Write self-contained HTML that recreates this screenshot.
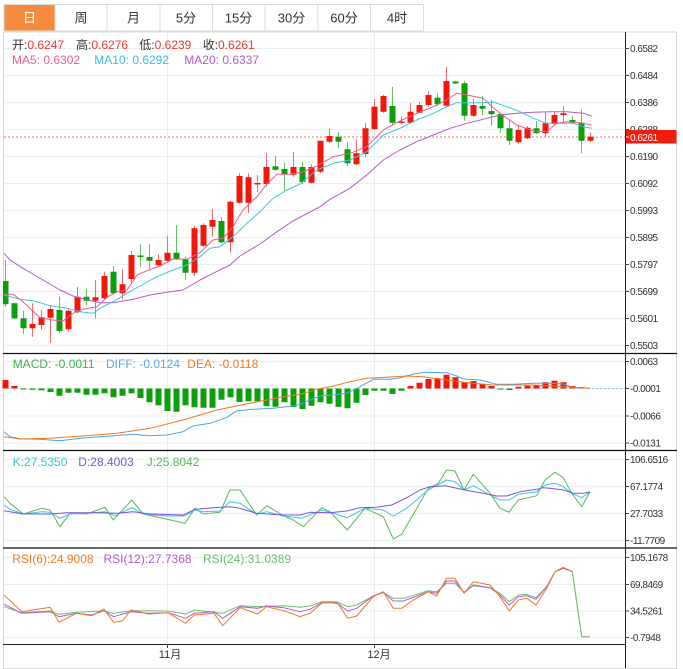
<!DOCTYPE html>
<html><head><meta charset="utf-8"><style>
html,body{margin:0;padding:0;background:#fff;}
svg{display:block;font-family:"Liberation Sans","Noto Sans CJK SC",sans-serif;}
.ax{font-size:10px;fill:#333;letter-spacing:-0.5px;}
.lg{font-size:12px;}
</style></head><body>
<svg width="683" height="669" viewBox="0 0 683 669" xmlns="http://www.w3.org/2000/svg">
<!-- tabs -->
<rect x="4" y="4.5" width="51" height="26.5" fill="#f58b3d"/>
<path d="M4 4.5H423.5M4 31H423.5M4 4.5V31M55 4.5V31M107 4.5V31M160 4.5V31M212.5 4.5V31M265 4.5V31M318 4.5V31M370.5 4.5V31M423.5 4.5V31" stroke="#dcdcdc" stroke-width="1" fill="none"/>
<g font-size="13" text-anchor="middle" fill="#333">
<text x="29.5" y="22.5" fill="#fff">日</text>
<text x="81" y="22.5">周</text>
<text x="133.5" y="22.5">月</text>
<text x="186" y="22.5">5分</text>
<text x="238.5" y="22.5">15分</text>
<text x="291.5" y="22.5">30分</text>
<text x="344" y="22.5">60分</text>
<text x="397" y="22.5">4时</text>
</g>
<!-- frame -->
<path d="M3.5 32V668M676.5 32V668M3 668.5H677M3 32H677" stroke="#d8d8d8" stroke-width="1" fill="none"/>
<!-- grids -->
<g stroke="#e9eef3" stroke-width="1" fill="none">
<path d="M4 48.5H625M4 75.5H625M4 102.5H625M4 129.5H625M4 156.5H625M4 183.5H625M4 210.5H625M4 237.5H625M4 264.5H625M4 291.5H625M4 318.5H625M4 345.5H625"/>
<path d="M4 361.5H625M4 388.5H625M4 416H625M4 443H625"/>
<path d="M4 459.5H625M4 486.5H625M4 513.5H625M4 540.5H625"/>
<path d="M4 557.5H625M4 584.5H625M4 611H625M4 637.5H625"/>
<path d="M167.5 32V644M374.5 32V644"/>
</g>
<!-- price current line -->
<path d="M4 137H625" stroke="#f46a6a" stroke-width="1" stroke-dasharray="2,2"/>
<!-- candles -->
<path stroke="#f36b6b" stroke-width="1" fill="none" d="M32.5 303.3V336.7M41.5 310V330M50.5 305V342.7M68.5 308V331.7M77.5 286.7V313.3M95.5 280V318.3M104.5 271.7V299.3M122.5 269.3V299.3M131.5 251V284.3M158.5 254.3V266.7M167.5 235.7V261.7M194.5 225.7V276M203.5 223.3V246.7M212.5 209V236.7M230.5 200.7V252.7M239.5 173.3V203.7M248.5 173.3V213.3M257.5 175V192.3M266.5 153.3V186.7M293.5 151.7V176.7M311.5 164.3V183.3M320.5 140.7V173.3M329.5 129V143.3M356.5 139.3V165M365.5 122.7V156.7M374.5 99V130M383.5 94.7V112.7M401.5 116.7V124.3M410.5 102.7V123.3M419.5 101.7V113.3M428.5 90.7V106.7M446.5 66.7V106.7M473.5 99.3V116.7M518.5 125V144M527.5 126V139.3M545.5 111.7V137.3M554.5 111.7V125M563.5 106V122.7M590.5 132.7V142.3"/>
<path stroke="#62c262" stroke-width="1" fill="none" d="M5.5 260V307M14.5 302.7V319M23.5 310.7V334M59.5 296.7V332.7M86.5 289.3V305M113.5 266V294.3M140.5 244V266.7M149.5 244V270M176.5 225V260.3M185.5 256.7V280M221.5 217.3V243.3M275.5 155.7V170.7M284.5 162.7V190.7M302.5 162V184M338.5 131.7V148.3M347.5 141.7V166M392.5 86.7V125M437.5 93.3V105.7M455.5 80.7V84M464.5 80.7V120.7M482.5 96V115M491.5 100V125.7M500.5 112.7V132.7M509.5 120V145M536.5 121V134M572.5 116V124M581.5 109.3V153.3"/>
<path fill="#f2170b" d="M29.5 324H35.5V328.3H29.5ZM38.5 317.3H44.5V325H38.5ZM47.5 309H53.5V317.7H47.5ZM65.5 310.7H71.5V329.3H65.5ZM74.5 296.7H80.5V312.3H74.5ZM92.5 297.3H98.5V300.7H92.5ZM101.5 276H107.5V298.3H101.5ZM119.5 284.3H125.5V293.3H119.5ZM128.5 255H134.5V279H128.5ZM155.5 260H161.5V265.3H155.5ZM164.5 252.7H170.5V260.7H164.5ZM191.5 228.3H197.5V272.7H191.5ZM200.5 225H206.5V245.7H200.5ZM209.5 220H215.5V226.7H209.5ZM227.5 201.7H233.5V242.3H227.5ZM236.5 176H242.5V202.7H236.5ZM245.5 177.3H251.5V202.7H245.5ZM254.5 183H260.5V184.5H254.5ZM263.5 167H269.5V184H263.5ZM290.5 167H296.5V174.7H290.5ZM308.5 167H314.5V182.7H308.5ZM317.5 140.7H323.5V171.7H317.5ZM326.5 136H332.5V141.7H326.5ZM353.5 153.3H359.5V164.3H353.5ZM362.5 128.3H368.5V154H362.5ZM371.5 106.7H377.5V129H371.5ZM380.5 96H386.5V111.7H380.5ZM398.5 121.5H404.5V123H398.5ZM407.5 111.7H413.5V122.7H407.5ZM416.5 105H422.5V112.7H416.5ZM425.5 95H431.5V105H425.5ZM443.5 81H449.5V105.7H443.5ZM470.5 105H476.5V115.7H470.5ZM515.5 130H521.5V142.3H515.5ZM524.5 127.7H530.5V138.3H524.5ZM542.5 123.3H548.5V133.3H542.5ZM551.5 115H557.5V124H551.5ZM560.5 113.3H566.5V115H560.5ZM587.5 136.7H593.5V140.7H587.5Z"/>
<path fill="#0b9f0b" d="M3 281H8.5V304.3H3ZM11.5 303.3H17.5V318.3H11.5ZM20.5 318.3H26.5V328.3H20.5ZM56.5 310H62.5V331H56.5ZM83.5 296.7H89.5V300.7H83.5ZM110.5 271.7H116.5V293.3H110.5ZM137.5 255.5H143.5V257H137.5ZM146.5 257H152.5V260.7H146.5ZM173.5 252.7H179.5V259.3H173.5ZM182.5 259.3H188.5V272.7H182.5ZM218.5 221H224.5V242.3H218.5ZM272.5 166.3H278.5V169.7H272.5ZM281.5 169H287.5V174.3H281.5ZM299.5 167H305.5V182H299.5ZM335.5 136.7H341.5V141.7H335.5ZM344.5 149.3H350.5V163.3H344.5ZM389.5 106H395.5V122.7H389.5ZM434.5 97.7H440.5V104.3H434.5ZM452.5 81.5H458.5V83.5H452.5ZM461.5 83.3H467.5V115.7H461.5ZM479.5 106H485.5V108.7H479.5ZM488.5 111H494.5V114.3H488.5ZM497.5 114H503.5V128.3H497.5ZM506.5 128.3H512.5V140.7H506.5ZM533.5 128.3H539.5V133.3H533.5ZM569.5 120H575.5V122.7H569.5ZM578.5 122.7H584.5V140.7H578.5Z"/>
<!-- MAs -->
<g fill="none" stroke-width="1" stroke-linejoin="round">
<polyline stroke="#b35ccc" points="4,253.3 10,260 23,268.3 43,280 60,290 73,296 88,300 100,302.7 113,302.7 133,299.3 150,295 167,292.3 183,290 200,280 213,273.3 230,265 240,256 260,244 277,231.7 293,221 320,206.7 330,199.3 350,188.3 366.7,175 383.3,160 400,150 416.7,141.7 433.3,135 450,128.3 466.7,123.3 483.3,119.3 500,115 516.7,113.3 533.3,112.3 550,111.7 566.7,111.7 583.3,113.3 591.7,116"/>
<polyline stroke="#3cc6de" points="4,295 10,296.7 20,299.3 33,300.7 50,305.7 67,308.3 80,311.7 93,313.3 100,308.3 113,301.7 127,293.3 140,286 157,276.7 173,270 187,265 200,256.7 210,248.3 220,246.7 233,236.7 247,223.3 260,211.7 273,198.3 287,190 300,184 316.7,170 333.3,163.3 350,160 366.7,151.7 383.3,135 400,128.3 416.7,120 433.3,113.3 446.7,106.7 456.7,102.7 466.7,102.7 483.3,102.7 493.3,102 506.7,106.7 520,111.7 533.3,118.3 546.7,123.3 560,123.3 573.3,123.3 583.3,126.7 591.7,128.3"/>
<polyline stroke="#ee5b8b" points="4,294.3 13,294.3 20,299.3 30,308.3 40,317.7 53,320 63,321 73,313.3 83,309.3 97,306.7 107,297.3 117,291.7 127,290 137,275 147,270.7 160,266 173,259 187,259.3 200,252.7 213,240 223,238.3 233,226.7 243,210 257,196.7 267,184 277,174.3 290,174.3 303,172 316.7,166 333.3,156.7 350,153.3 366.7,146.7 383.3,130 400,121 416.7,113.3 433.3,106.7 446.7,100 456.7,93.3 466.7,95 483.3,98.3 490,105 500,113.3 516.7,125 533.3,131 546.7,131.7 556.7,123.3 566.7,121.7 580,122.7 591.7,125"/>
</g>
<!-- legend main -->
<text class="lg" y="49"><tspan x="12" fill="#333">开:</tspan><tspan fill="#ee3b2b">0.6247</tspan><tspan x="76" fill="#333">高:</tspan><tspan fill="#ee3b2b">0.6276</tspan><tspan x="139.3" fill="#333">低:</tspan><tspan fill="#ee3b2b">0.6239</tspan><tspan x="202.7" fill="#333">收:</tspan><tspan fill="#ee3b2b">0.6261</tspan></text>
<text class="lg" y="64"><tspan x="12" fill="#ef5d8d">MA5: 0.6302</tspan><tspan x="94.3" fill="#35c3dc">MA10: 0.6292</tspan><tspan x="184.3" fill="#b45bd0">MA20: 0.6337</tspan></text>
<!-- MACD -->
<path fill="#f2170b" d="M2.5 380H8.5V388.5H2.5ZM11.5 386H17.5V388.5H11.5ZM407.5 386H413.5V388.5H407.5ZM416.5 382.7H422.5V388.5H416.5ZM425.5 379H431.5V388.5H425.5ZM434.5 378.3H440.5V388.5H434.5ZM443.5 374.7H449.5V388.5H443.5ZM452.5 377.3H458.5V388.5H452.5ZM461.5 382.3H467.5V388.5H461.5ZM470.5 381H476.5V388.5H470.5ZM479.5 384H485.5V388.5H479.5ZM488.5 386H494.5V388.5H488.5ZM515.5 386.7H521.5V388.5H515.5ZM524.5 385.7H530.5V388.5H524.5ZM533.5 385H539.5V388.5H533.5ZM542.5 382.3H548.5V388.5H542.5ZM551.5 380.7H557.5V388.5H551.5ZM560.5 382.3H566.5V388.5H560.5ZM569.5 386H575.5V388.5H569.5ZM578.5 387.3H584.5V388.5H578.5Z"/>
<path fill="#0b9f0b" d="M20.5 388.5H26.5V389.5H20.5ZM29.5 388.5H35.5V389.7H29.5ZM38.5 388.5H44.5V390.3H38.5ZM47.5 388.5H53.5V392H47.5ZM56.5 388.5H62.5V395.7H56.5ZM65.5 388.5H71.5V392.7H65.5ZM74.5 388.5H80.5V392.7H74.5ZM83.5 388.5H89.5V394.7H83.5ZM92.5 388.5H98.5V394.7H92.5ZM101.5 388.5H107.5V393.3H101.5ZM110.5 388.5H116.5V397.3H110.5ZM119.5 388.5H125.5V395.7H119.5ZM128.5 388.5H134.5V393.3H128.5ZM137.5 388.5H143.5V398H137.5ZM146.5 388.5H152.5V402.3H146.5ZM155.5 388.5H161.5V405.3H155.5ZM164.5 388.5H170.5V411H164.5ZM173.5 388.5H179.5V411.7H173.5ZM182.5 388.5H188.5V405.3H182.5ZM191.5 388.5H197.5V407.3H191.5ZM200.5 388.5H206.5V407.7H200.5ZM209.5 388.5H215.5V407.7H209.5ZM218.5 388.5H224.5V399.7H218.5ZM227.5 388.5H233.5V397.3H227.5ZM236.5 388.5H242.5V402H236.5ZM245.5 388.5H251.5V401.3H245.5ZM254.5 388.5H260.5V401.3H254.5ZM263.5 388.5H269.5V406.3H263.5ZM272.5 388.5H278.5V406.7H272.5ZM281.5 388.5H287.5V402.3H281.5ZM290.5 388.5H296.5V407H290.5ZM299.5 388.5H305.5V409H299.5ZM308.5 388.5H314.5V405.7H308.5ZM317.5 388.5H323.5V402.3H317.5ZM326.5 388.5H332.5V403.7H326.5ZM335.5 388.5H341.5V406.7H335.5ZM344.5 388.5H350.5V408.3H344.5ZM353.5 388.5H359.5V402.7H353.5ZM362.5 388.5H368.5V395H362.5ZM371.5 388.5H377.5V390.7H371.5ZM380.5 388.5H386.5V390.7H380.5ZM389.5 388.5H395.5V394H389.5ZM398.5 388.5H404.5V390.7H398.5ZM497.5 388.5H503.5V389.5H497.5ZM506.5 388.5H512.5V390H506.5Z"/>
<path d="M588 388.5H625" stroke="#8fc3ee" stroke-width="1" stroke-dasharray="2,2"/>
<g fill="none" stroke-width="1" stroke-linejoin="round">
<polyline stroke="#4ea4ef" points="4,431.7 10,436.7 20,438.7 40,439.3 60,440.7 80,438.3 100,436.7 133,434.3 150,435.7 167,435 183,431.7 193,426 210,423.3 227,417.3 237,410.7 253,409.3 273,408.3 293,406 300,404.3 310,400 320,396 333.3,395 346.7,393.3 360,386.7 373.3,379.3 390,379.3 400,377.7 413.3,374 426.7,372.3 446.7,372.7 456.7,376 463.3,379 480,380 496.7,384.3 513.3,384.3 533.3,383.3 553.3,383.3 563.3,384 573.3,387.3 580,388.3"/>
<polyline stroke="#f5781e" points="4,436.7 20,439 50,438.3 83,436 117,433.3 150,428.3 183,420 217,410 250,403.3 283,396.7 300,394.3 316.7,389.3 333.3,386 350,381.7 366.7,378.3 386.7,377.3 406.7,376 423.3,376.7 433.3,378.3 446.7,380 460,381.7 473.3,383.3 493.3,385 513.3,385 533.3,385 553.3,386 573.3,387.3 590,388.3"/>
</g>
<text class="lg" y="368"><tspan x="12.7" fill="#3cb44b">MACD: -0.0011</tspan><tspan x="106" fill="#5ba8ec">DIFF: -0.0124</tspan><tspan x="187.3" fill="#f57a24">DEA: -0.0118</tspan></text>
<!-- KDJ -->
<g fill="none" stroke-width="1" stroke-linejoin="round">
<polyline stroke="#5cb85c" points="4,496.7 10,503.3 23.3,514 41.7,508.3 50,510 60,526.7 70,513.3 86.7,514 105,507.3 113.3,520 131.7,500 143.3,514 185,523.3 195,508.3 203.3,514 220,512.3 230,490 240,490 256.7,515 266.7,505.7 283.3,515.7 293.3,520 303.3,526.7 321.7,507.7 330,511.7 347.3,530 365,508.3 383.3,516.7 393.3,539 401.7,534.3 428.3,488.3 438.3,483.3 446.7,470 455,471 464,490 473.3,474.3 490,493.3 500,508.3 509,512.3 518.3,500 536.7,495.7 545,480 555,472.3 563.3,477.7 571.7,493.3 581.7,506.7 590,491.7"/>
<polyline stroke="#3cc5e0" points="4,505 10,509.3 23.3,514 41.7,511.7 50,512.3 60,518.3 70,514 86.7,513.3 105,511.7 115,515.7 131.7,507.7 143.3,514 166.7,516 185,516 195,510 203.3,511.7 220,511 230,501.7 240,503.3 256.7,514.3 266.7,511.7 283.3,516 301.7,518.3 321.7,510 330,512.3 347.3,517.7 365,508.3 383.3,510 393.3,516 406.7,508.3 428.3,490 446.7,480 455,481.7 464,490 473.3,485.7 490,495 500,500 509,500 518.3,494.3 536.7,491.7 545,485 555,483.3 563.3,486.7 571.7,493.3 581.7,497.7 590,491.7"/>
<polyline stroke="#7e54d6" points="4,510.7 23.3,514 50,514 66.7,512.7 100,512.7 116.7,513.3 133.3,511.7 150,514 183.3,515 195,509.3 220,507.3 230,506.7 240,508.3 256.7,513.3 283.3,515 300,515 310,512.3 330,512.7 346.7,511 360,507.7 376.7,507.3 391.7,505 406.7,497.7 420,490 430,486.7 445,485.7 456.7,488.3 470,491 483.3,493.3 496.7,496 506.7,496 520,491.7 536.7,489.3 543.3,487.7 550,488.3 563.3,490 573.3,493.3 583.3,493.3 590,491.7"/>
</g>
<text class="lg" y="466"><tspan x="12.7" fill="#3cc5e0">K:27.5350</tspan><tspan x="78.3" fill="#7e57d8">D:28.4003</tspan><tspan x="146.7" fill="#5cb85c">J:25.8042</tspan></text>
<!-- RSI -->
<g fill="none" stroke-width="1" stroke-linejoin="round">
<polyline stroke="#6cc070" points="4,606.7 21.8,612.7 50.2,611 59,614.3 76.4,612.3 104,611 113.5,613.3 131,610.7 168,611 185.6,614 194.3,610 222.7,613.3 240.2,605.7 257.6,606.7 283.8,605.7 300,607.3 310,606 321.7,601.7 336.7,601.7 347.7,606.7 356.7,605 373.3,596 383.3,592.7 393.3,598.3 403.3,598.3 416.7,594.3 428.3,590.7 436.7,591.7 446.7,583.3 455,583.3 464,592.3 473.3,585.7 490,587.7 500,593.3 509.3,601.7 518.3,595 526.7,594.3 536,597.7 546.7,586.7 555,571.7 563.3,568.3 572.3,571.7 581.7,636.7"/>
<polyline stroke="#b45bd0" points="4,604.3 21.8,613.3 50.2,611.7 59,616.7 76.4,613.3 91.7,615 104,610.7 113.5,616.7 131,611.7 148.5,613.3 168,612.7 185.6,618.3 194.3,613.3 214,611.7 222.7,618.3 240.2,606.7 257.6,608.3 266.4,606 283.8,607.7 300,611.7 310,609.3 321.7,602.7 336.7,602.7 347.7,611 356.7,608.3 373.3,596 383.3,592.3 393.3,601 403.3,601 416.7,596 428.3,591.7 436.7,593.3 446.7,581 455,581 464,592.7 473.3,585 490,587.7 500,595 509.3,605 518.3,596.7 526.7,595.7 536,599.3 546.7,586.7 555,571.7 563.3,568.3 572.3,571.7"/>
<polyline stroke="#f5781e" points="4,595 21.8,611.7 50.2,607.3 59,622.3 76.4,613.3 91.7,615.7 104,609 113.5,622.3 122.3,621 131,610 148.5,614 168,612.7 185.6,623.3 194.3,615 214,613.3 222.7,625.7 240.2,607.7 257.6,614 266.4,606.7 283.8,610.7 300,616.7 310,613.3 321.7,603.3 330,602.3 338.3,604 347.7,618.3 356.7,616 373.3,596.7 383.3,591.7 393.3,608.3 401.7,608.3 413.3,600 428.3,591.7 436.7,596 446.7,578.3 455,578.3 464,593.3 473.3,581.7 490,585 500,596.7 509.3,611 518.3,600 526.7,598.3 536,605 546.7,588.3 555,571.7 563.3,567.3 572.3,571.7"/>
<polyline stroke="#7ab879" points="572.3,571.7 581.7,636.7"/>
<polyline stroke="#b5b5a5" stroke-width="1.5" points="581.7,636.7 590,636.7"/>
</g>
<text class="lg" y="563"><tspan x="12.2" fill="#f57a24">RSI(6):24.9008</tspan><tspan x="103.5" fill="#b45bd0">RSI(12):27.7368</tspan><tspan x="203" fill="#6cc070">RSI(24):31.0389</tspan></text>
<!-- separators and axes -->
<path d="M3 353.5H677M3 450.5H677M3 548H677" stroke="#111" stroke-width="1.3"/>
<path d="M3 644.5H625" stroke="#222" stroke-width="1"/>
<path d="M625.5 32V668" stroke="#222" stroke-width="1"/>
<!-- ticks -->
<path stroke="#444" stroke-width="1" d="M625 48.5H629M625 75.5H629M625 102.5H629M625 129.5H629M625 156.5H629M625 183.5H629M625 210.5H629M625 237.5H629M625 264.5H629M625 291.5H629M625 318.5H629M625 345.5H629M625 361.5H629M625 388.5H629M625 416H629M625 443H629M625 459.5H629M625 486.5H629M625 513.5H629M625 540.5H629M625 557.5H629M625 584.5H629M625 611H629M625 637.5H629M167.5 644V648M374.5 644V648"/>
<g class="ax">
<text x="630" y="52">0.6582</text>
<text x="630" y="79">0.6484</text>
<text x="630" y="106">0.6386</text>
<text x="630" y="133">0.6288</text>
<text x="630" y="160">0.6190</text>
<text x="630" y="187">0.6092</text>
<text x="630" y="214">0.5993</text>
<text x="630" y="241">0.5895</text>
<text x="630" y="268">0.5797</text>
<text x="630" y="295">0.5699</text>
<text x="630" y="322">0.5601</text>
<text x="630" y="349">0.5503</text>
<text x="630" y="365">0.0063</text>
<text x="630" y="392">-0.0001</text>
<text x="630" y="419.5">-0.0066</text>
<text x="630" y="446.5">-0.0131</text>
<text x="630" y="463">106.6516</text>
<text x="630" y="490">67.1774</text>
<text x="630" y="517">27.7033</text>
<text x="630" y="544">-11.7709</text>
<text x="630" y="561">105.1678</text>
<text x="630" y="588">69.8469</text>
<text x="630" y="614.5">34.5261</text>
<text x="630" y="641">-0.7948</text>
</g>
<rect x="626" y="130" width="50.5" height="13.5" fill="#f01c0c"/>
<path d="M626 137H629" stroke="#fff" stroke-width="1"/>
<text x="630" y="140.8" class="ax" fill="#fff" style="fill:#fff">0.6261</text>
<g font-size="11" fill="#333" text-anchor="middle">
<text x="170" y="658">11月</text>
<text x="379" y="658">12月</text>
</g>
</svg>
</body></html>
